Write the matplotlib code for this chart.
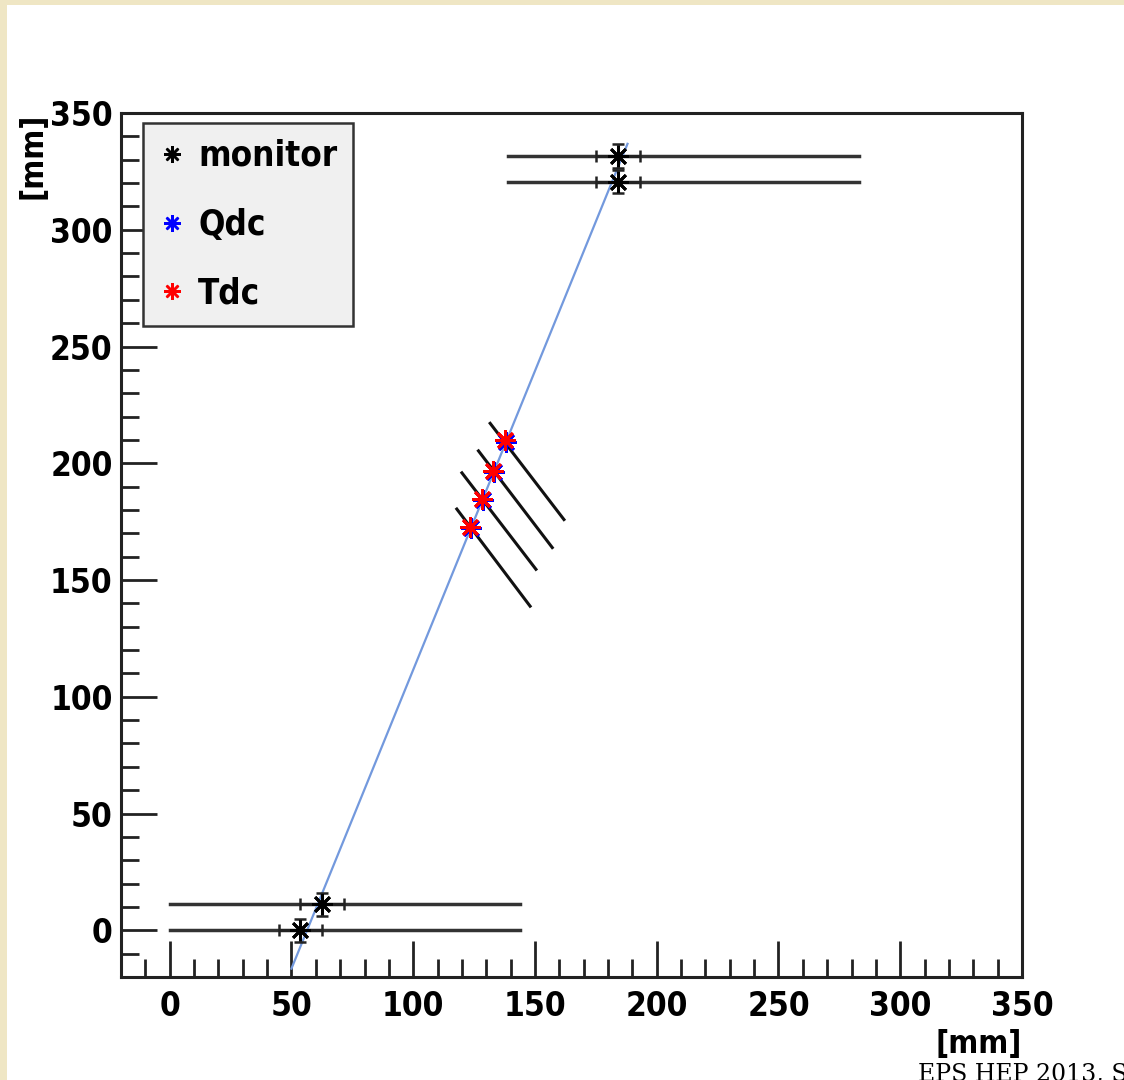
import matplotlib.pyplot as plt
from matplotlib.lines import Line2D
from matplotlib.patches import Rectangle

# monitor points (black)
mon_x = [53.7, 62.6, 184.1, 184.1]
mon_y = [0.0, 11.1, 320.6, 331.6]
mon_xerr = [9, 9, 9, 9]
mon_yerr = [5, 5, 5, 5]

# monitor acceptance lines
acc_x0 = [0, 0, 139, 139]
acc_x1 = [144, 144, 283, 283]
acc_y = [0.0, 11.1, 320.6, 331.6]

# Qdc / Tdc points
qdc_x = [123.8, 128.5, 133.3, 138.1]
qdc_y = [172.2, 184.1, 196.2, 209.3]
tdc_x = [123.4, 128.1, 132.9, 137.7]
tdc_y = [172.8, 184.7, 196.8, 209.9]

# detector planes (diagonal lines)
plane_x0 = [117.9, 120.0, 126.8, 131.6]
plane_y0 = [180.4, 195.9, 205.3, 217.1]
plane_x1 = [148.0, 150.4, 157.1, 161.9]
plane_y1 = [138.8, 154.6, 163.9, 175.9]

# fitted track
fit_x = [50, 188]
fit_y = [-16.4, 336.8]

plt.rcParams['font.family'] = ['DejaVu Sans']
plt.rcParams['font.stretch'] = 'condensed'
plt.rcParams['font.weight'] = 'bold'

ast = (8, 2, 0)

fig = plt.figure(figsize=(11.24, 10.8), dpi=100, facecolor='#efe6c4')
fig.patches.append(Rectangle((7 / 1124, 0), 1, 1075 / 1080, transform=fig.transFigure,
                             facecolor='white', edgecolor='none', zorder=-5))
ax = fig.add_axes([121 / 1124, 103 / 1080, 901 / 1124, 864 / 1080])
ax.set_zorder(2)

# fit line
ax.plot(fit_x, fit_y, color='#7399dd', lw=1.6, zorder=2)

# acceptance lines
for x0, x1, y in zip(acc_x0, acc_x1, acc_y):
    ax.plot([x0, x1], [y, y], color='#333333', lw=2.5, zorder=1)

# planes
for x0, y0, x1, y1 in zip(plane_x0, plane_y0, plane_x1, plane_y1):
    ax.plot([x0, x1], [y0, y1], color='#111111', lw=2.2, zorder=1)

ax.errorbar(mon_x, mon_y, xerr=mon_xerr, yerr=mon_yerr, fmt='none', ecolor='#222222',
            elinewidth=2.2, capsize=4, capthick=1.8, zorder=3)
ax.plot(mon_x, mon_y, ls='none', marker=ast, ms=15, mew=2, color='black', zorder=4)
ax.plot(qdc_x, qdc_y, ls='none', marker=ast, ms=15, mew=2, color='blue', zorder=4)
ax.plot(tdc_x, tdc_y, ls='none', marker=ast, ms=15, mew=2, color='red', zorder=5)

ax.set_xlim(-20, 350)
ax.set_ylim(-20, 350)
ax.set_xticks(range(0, 351, 50))
ax.set_yticks(range(0, 351, 50))
ax.set_xticks(range(-10, 351, 10), minor=True)
ax.set_yticks(range(-10, 351, 10), minor=True)
ax.tick_params(which='both', direction='in', top=False, right=False, width=2, color='#222222',
               labelsize=24)
ax.tick_params(which='major', length=26)
ax.tick_params(which='minor', length=13)
ax.tick_params(axis='x', pad=9)
ax.tick_params(axis='y', pad=6)
for s in ax.spines.values():
    s.set_linewidth(2.2)
    s.set_color('#222222')

ax.set_ylabel('[mm]', fontsize=23, fontweight='bold', loc='top')
ax.yaxis.set_label_coords(-0.08, 1.0)
fig.text(1022 / 1124, 1 - 1045 / 1080, '[mm]', fontsize=23, fontweight='bold',
         ha='right', va='center')
fig.text(918 / 1124, 1 - 1063 / 1080, 'EPS HEP 2013, S', fontsize=17,
         fontweight='normal', stretch='normal', family='DejaVu Serif', ha='left', va='top')

handles = [Line2D([], [], ls='none', marker=ast, ms=12, mew=1.8, color=c)
           for c in ['black', 'blue', 'red']]
leg = ax.legend(handles, ['monitor', 'Qdc', 'Tdc'], loc='upper left',
                bbox_to_anchor=(0.024, 0.988), fancybox=False, framealpha=1,
                facecolor='#f0f0f0', edgecolor='#333333', prop={'size': 25, 'weight': 'bold'},
                labelspacing=1.0, handlelength=0.8, handletextpad=0.35,
                borderpad=0.45, borderaxespad=0)
leg.get_frame().set_linewidth(1.8)

fig.savefig('out.png', dpi=100, facecolor=fig.get_facecolor())
